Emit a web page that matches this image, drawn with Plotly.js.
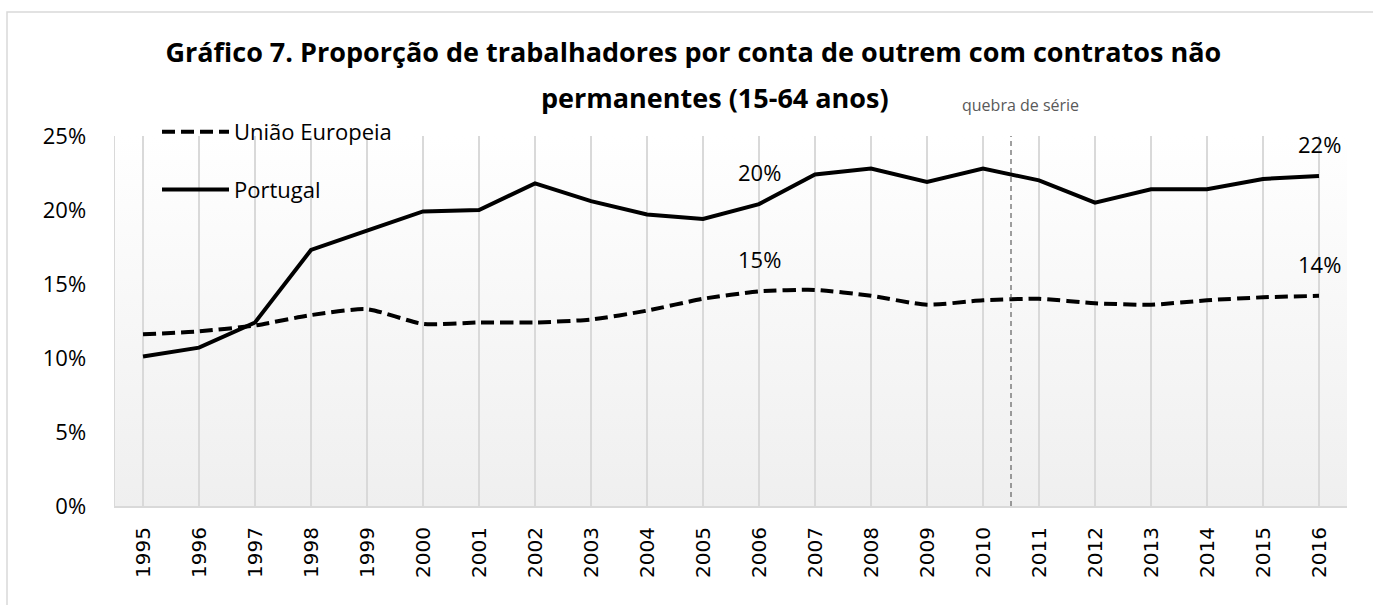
<!DOCTYPE html>
<html>
<head>
<meta charset="utf-8">
<script src="https://cdn.plot.ly/plotly-3.0.1.min.js"></script>
<style>
  html, body { margin: 0; padding: 0; background: #ffffff; }
  #chart { width: 1373px; height: 605px; }
</style>
</head>
<body>
<div id="chart"></div>
<script>
// ---- data ----
const years = [1995, 1996, 1997, 1998, 1999, 2000, 2001, 2002, 2003, 2004, 2005,
               2006, 2007, 2008, 2009, 2010, 2011, 2012, 2013, 2014, 2015, 2016];
const tickLabels = years.map(String);
const euName = 'União Europeia';
const ptName = 'Portugal';
const euValues = [11.6, 11.8, 12.2, 12.9, 13.3, 12.3, 12.4, 12.4, 12.6, 13.2, 14.0,
                  14.5, 14.6, 14.2, 13.6, 13.9, 14.0, 13.7, 13.6, 13.9, 14.1, 14.2];
const ptValues = [10.1, 10.7, 12.4, 17.3, 18.6, 19.9, 20.0, 21.8, 20.6, 19.7, 19.4,
                  20.4, 22.4, 22.8, 21.9, 22.8, 22.0, 20.5, 21.4, 21.4, 22.1, 22.3];
const labelYears = [2006, 2016];
const breakAfterYear = 2010;
const breakLabel = 'quebra de série';
const titleLine1 = 'Gráfico 7. Proporção de trabalhadores por conta de outrem com contratos não';
const titleLine2 = 'permanentes (15-64 anos)';

// ---- figure ----
const baseFont = 'Open Sans, Liberation Sans, sans-serif';

const traces = [
  {
    x: years, y: euValues, name: euName, type: 'scatter', mode: 'lines',
    legendgroup: 'eu',
    line: { color: '#000000', width: 4, dash: '13px,6px', shape: 'spline', smoothing: 0.6 },
    hoverinfo: 'skip'
  },
  {
    x: years, y: ptValues, name: ptName, type: 'scatter', mode: 'lines',
    legendgroup: 'pt',
    line: { color: '#000000', width: 4 },
    hoverinfo: 'skip'
  }
];

const annotations = [];
labelYears.forEach(yr => {
  const i = years.indexOf(yr);
  [ptValues, euValues].forEach(arr => {
    annotations.push({
      x: yr, y: arr[i], xref: 'x', yref: 'y',
      text: Math.round(arr[i]) + '%', showarrow: false, yshift: 32,
      font: { family: baseFont, size: 22, color: '#000000' }
    });
  });
});
annotations.push({
  x: breakAfterYear + 0.5, xref: 'x', xshift: 9,
  y: 1.084, yref: 'paper', yanchor: 'middle',
  text: breakLabel, showarrow: false,
  font: { family: baseFont, size: 16, color: '#595959' }
});
annotations.push({
  x: 0.487, xref: 'paper', y: 1.105, yref: 'paper', yanchor: 'middle',
  text: '<b>' + titleLine2 + '</b>', showarrow: false,
  font: { family: baseFont, size: 27, color: '#000000' }
});

const gradSvg = 'data:image/svg+xml;utf8,' + encodeURIComponent(
  '<svg xmlns="http://www.w3.org/2000/svg" width="100" height="100" preserveAspectRatio="none">' +
  '<defs><linearGradient id="g" x1="0" y1="0" x2="0" y2="1">' +
  '<stop offset="0" stop-color="#ffffff"/><stop offset="1" stop-color="#efefef"/>' +
  '</linearGradient></defs><rect width="100" height="100" fill="url(#g)"/></svg>');

const layout = {
  width: 1373, height: 605,
  margin: { l: 115, r: 26, t: 136, b: 99, pad: 0, autoexpand: false },
  paper_bgcolor: '#ffffff',
  plot_bgcolor: 'rgba(0,0,0,0)',
  title: {
    text: '<b>' + titleLine1 + '</b>',
    font: { family: baseFont, size: 27, color: '#000000' },
    xref: 'container', x: 0.505, xanchor: 'center',
    yref: 'container', y: 1 - 53 / 605, yanchor: 'middle'
  },
  xaxis: {
    type: 'linear', range: [years[0] - 0.5, years[years.length - 1] + 0.5],
    tickvals: years, ticktext: tickLabels, tickangle: -90,
    tickfont: { family: 'DejaVu Sans, sans-serif', size: 20, color: '#000000' },
    showgrid: true, gridcolor: '#d9d9d9', gridwidth: 1.5,
    showline: true, linecolor: '#d9d9d9', linewidth: 2,
    ticks: '', ticklabelstandoff: 11, zeroline: false, fixedrange: true
  },
  yaxis: {
    range: [0, 25], dtick: 5, tick0: 0, ticksuffix: '%',
    tickfont: { family: baseFont, size: 22, color: '#000000' },
    showgrid: false, zeroline: false,
    showline: true, linecolor: '#d9d9d9', linewidth: 1.5,
    ticks: '', ticklabelstandoff: 23, fixedrange: true
  },
  showlegend: true,
  legend: {
    xref: 'container', yref: 'container',
    x: 157 / 1373, y: 1 - 111 / 605, xanchor: 'left', yanchor: 'top',
    font: { family: baseFont, size: 22, color: '#000000' },
    bgcolor: 'rgba(0,0,0,0)', traceorder: 'grouped', tracegroupgap: 26,
    itemwidth: 67
  },
  images: [{
    source: gradSvg, xref: 'paper', yref: 'paper', x: 0, y: 1,
    sizex: 1, sizey: 1, sizing: 'stretch', xanchor: 'left', yanchor: 'top',
    layer: 'below'
  }],
  shapes: [
    {
      type: 'line', xref: 'x', yref: 'y',
      x0: breakAfterYear + 0.5, x1: breakAfterYear + 0.5, y0: 0, y1: 25,
      line: { color: '#404040', width: 1, dash: '5px,4px' }
    },
    {
      type: 'rect', xref: 'paper', yref: 'paper',
      x0: (7 - 115) / 1232, x1: (1390 - 115) / 1232,
      y0: (506 - 640) / 370, y1: (506 - 12) / 370,
      line: { color: '#d9d9d9', width: 1.5 }, fillcolor: 'rgba(0,0,0,0)', layer: 'below'
    }
  ],
  annotations: annotations
};

Plotly.newPlot('chart', traces, layout, { displayModeBar: false, staticPlot: true });
</script>
</body>
</html>
